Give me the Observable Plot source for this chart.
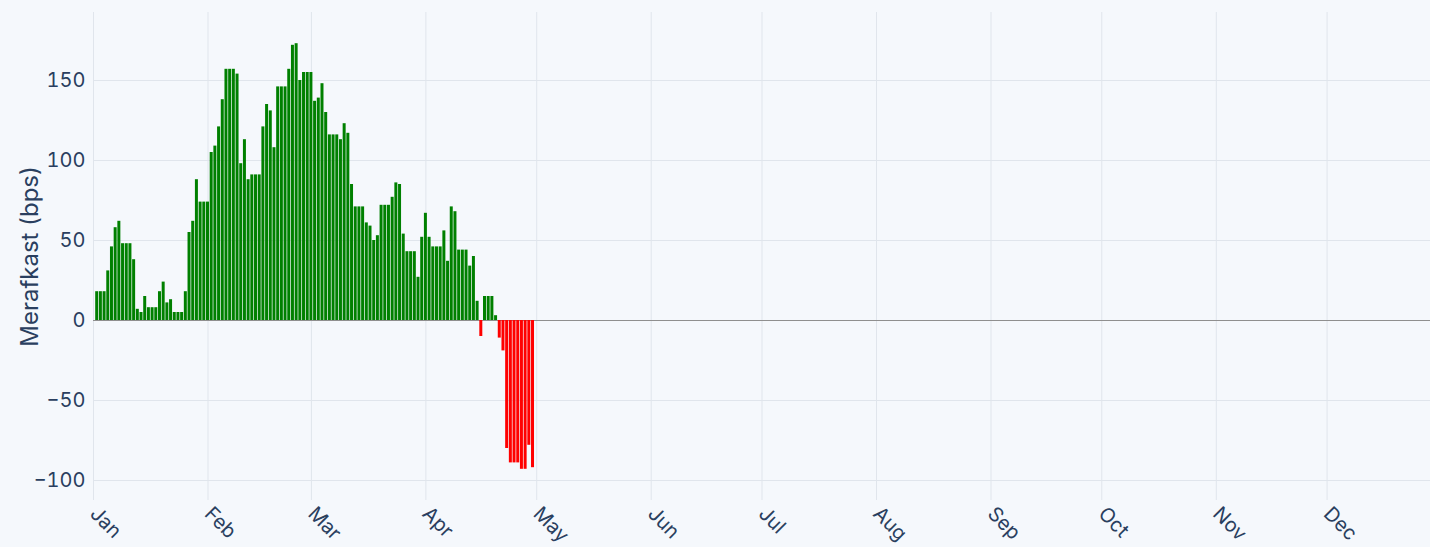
<!DOCTYPE html>
<html><head><meta charset="utf-8">
<script src="https://cdn.jsdelivr.net/npm/d3@7"></script>
<script src="https://cdn.jsdelivr.net/npm/@observablehq/plot@0.6"></script>
<style>
html,body{margin:0;padding:0;background:#f5f8fc;overflow:hidden;}
</style></head><body><div id="chart"></div>
<script>
// Daily values (bps), consecutive days starting at startDate
const startDate = "2026-01-02";
const values = [
  18,18,18,31,46,58,62,48,48,48,38,7,5,15,8,8,8,18,24,11,13,5,5,5,18,55,62,88,74,74,74,
  105,109,121,138,157,157,157,154,98,113,88,91,91,91,121,135,131,108,146,146,146,157,172,173,150,155,155,155,
  137,139,148,130,116,116,116,113,123,117,85,71,71,71,61,59,50,53,72,72,72,77,86,85,54,43,43,43,27,52,67,
  52,46,46,46,56,37,71,68,44,44,44,34,40,12,-10,15,15,15,3,-11,-19,-80,-89,-89,-89,-93,-93,-78,-92
];
const monthTicks = ["2026-01-01","2026-02-01","2026-03-01","2026-04-01","2026-05-01","2026-06-01",
  "2026-07-01","2026-08-01","2026-09-01","2026-10-01","2026-11-01","2026-12-01"];
const xDomain = ["2026-01-01","2026-12-29"];
const yTicks = [-100,-50,0,50,100,150];
const yDomain = [-112.5,192.5];
const yLabel = "Merafkast (bps)";

const toDate = s => new Date(s + "T00:00:00Z");
const start = toDate(startDate);
const data = values.map((v,i)=>({date: d3.utcDay.offset(start,i), value: v}));
const ticks = monthTicks.map(toDate);

const chart = Plot.plot({
  width: 1430, height: 547,
  marginLeft: 93, marginRight: 0, marginTop: 12, marginBottom: 47,
  style: {background: "#f5f8fc", fontFamily: "Inter, 'Open Sans', sans-serif", color: "#2a3f5f", fontSize: "20px"},
  x: {type: "utc", domain: xDomain.map(toDate)},
  y: {domain: yDomain},
  marks: [
    Plot.gridX(ticks, {stroke: "#e0e5ec", strokeOpacity: 1}),
    Plot.gridY(yTicks, {stroke: "#e0e5ec", strokeOpacity: 1}),
    Plot.ruleY([0], {stroke: "#8f8f8f", strokeWidth: 1}),
    Plot.rect(data, {
      x1: d => d3.utcHour.offset(d.date, -12),
      x2: d => d3.utcHour.offset(d.date, 12),
      y1: 0, y2: "value",
      fill: d => d.value >= 0 ? "green" : "red",
      insetLeft: 0.35, insetRight: 0.35
    }),
    Plot.axisY(yTicks, {tickSize: 0, tickPadding: 8, fontSize: 20, label: null, tickFormat: d => d3.format("")(d).replace("-", "\u2212")}),
    Plot.axisX(ticks, {tickFormat: "%b", tickRotate: 45, tickSize: 0, tickPadding: 10, fontSize: 20, label: null}),
    Plot.text([yLabel], {frameAnchor: "left", textAnchor: "middle", rotate: -90, dx: -63, fontSize: 24, fill: "#2a3f5f"})
  ]
});
document.getElementById("chart").appendChild(chart);
</script></body></html>
